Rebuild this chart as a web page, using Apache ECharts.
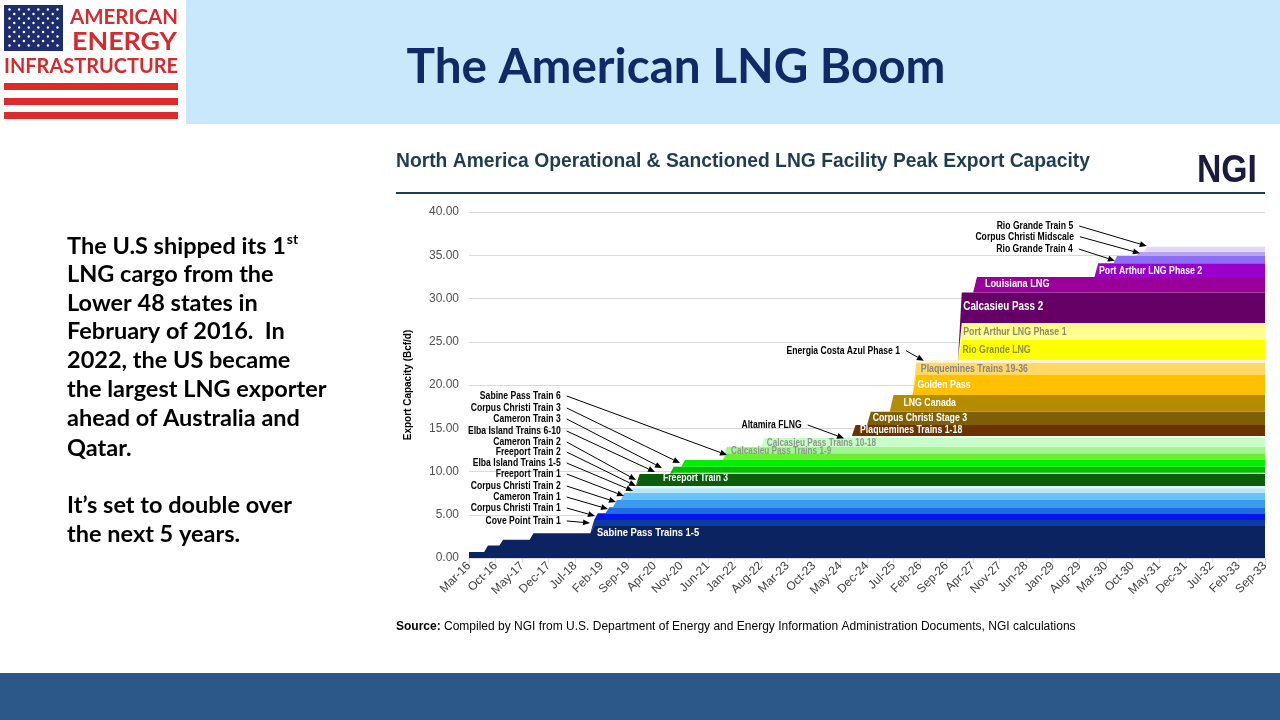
<!DOCTYPE html>
<html>
<head>
<meta charset="utf-8">
<title>The American LNG Boom</title>
<script src="https://cdn.jsdelivr.net/npm/echarts@6/dist/echarts.min.js"></script>
<style>
html,body{margin:0;padding:0;background:#ffffff;overflow:hidden;}
#chart{width:1280px;height:720px;}
</style>
</head>
<body>
<div id="chart"></div>
<script>
// ================= DATA =================
const tickLabels = ['Mar-16','Oct-16','May-17','Dec-17','Jul-18','Feb-19','Sep-19','Apr-20','Nov-20','Jun-21',
  'Jan-22','Aug-22','Mar-23','Oct-23','May-24','Dec-24','Jul-25','Feb-26','Sep-26','Apr-27','Nov-27','Jun-28',
  'Jan-29','Aug-29','Mar-30','Oct-30','May-31','Dec-31','Jul-32','Feb-33','Sep-33'];

const facilityNames = [
  'Sabine Pass Trains 1-5','Cove Point Train 1','Corpus Christi Train 1','Cameron Train 1','Corpus Christi Train 2',
  'Freeport Train 1','Elba Island Trains 1-5','Freeport Train 2','Cameron Train 2','Freeport Train 3',
  'Elba Island Trains 6-10','Cameron Train 3','Corpus Christi Train 3','Sabine Pass Train 6','Calcasieu Pass Trains 1-9',
  'Calcasieu Pass Trains 10-18','Altamira FLNG','Plaquemines Trains 1-18','Corpus Christi Stage 3','LNG Canada',
  'Golden Pass','Plaquemines Trains 19-36','Energia Costa Azul Phase 1','Rio Grande LNG','Port Arthur LNG Phase 1',
  'Calcasieu Pass 2','Louisiana LNG','Port Arthur LNG Phase 2','Rio Grande Train 4','Corpus Christi Midscale','Rio Grande Train 5'];

// month (counted from Mar-16) at which each facility reaches its capacity
const facilityStartMonth = [0,33,34,37,39, 41,43,44,45,45, 54,54,57,68,68, 78,100,102,106,112, 118,118,120,130,130, 130,134,166,171,177,179];

// peak export capacity, Bcf/d
const facilityCapacity = [3.70,0.69,0.78,0.69,0.85, 0.84,0.51,0.26,0.70,0.69, 0.15,0.69,0.78,0.77,0.77,
  1.00,0.23,1.28,1.53,1.93, 2.32,1.44,0.29,2.31,1.97, 3.52,1.80,1.58,0.84,0.50,0.58];

// Sabine Pass Trains 1-5 came on in steps
const sabineStepMonth = [0,5,9,17,33];
const sabineStepCapacity = [0.70,1.45,2.10,2.85,3.70];

// ================= STYLE =================
const facilityColors = ['#0b2461','#0d3c9e','#0514ee','#1f6de0','#3c9bf0',
  '#68c4f6','#b3e6f8','#e4f6fc','#0b5c0b','#0b5c0b',
  '#c9efc9','#00c000','#00ee00','#6cee34','#a2f590',
  '#c8fcc8','#e8ffe8','#6b3304','#7f5f05','#b58b00',
  '#ffc000','#ffd966','#fff5d6','#ffff00','#ffff8f',
  '#660066','#99009a','#9a00cc','#8c6ef5','#b9a2f0','#e3d5f8'];

// ---- annotation layout (data coordinates: [month, Bcf/d]) ----
const arrowNotes = [
  ['Sabine Pass Train 6',       [24.2,18.73],[68.07,11.91]],
  ['Corpus Christi Train 3',    [24.2,17.34],[55.67,10.98]],
  ['Cameron Train 3',           [24.2,16.07],[50.92,10.40]],
  ['Elba Island Trains 6-10',   [24.2,14.68],[49.07,9.94]],
  ['Cameron Train 2',           [24.2,13.41],[44.06,9.02]],
  ['Freeport Train 2',          [24.2,12.25],[44.06,8.32]],
  ['Elba Island Trains 1-5',    [24.2,10.98],[43.27,7.75]],
  ['Freeport Train 1',          [24.2,9.71],[40.89,7.17]],
  ['Corpus Christi Train 2',    [24.2,8.32],[38.78,6.47]],
  ['Cameron Train 1',           [24.2,7.05],[36.67,5.66]],
  ['Corpus Christi Train 1',    [24.2,5.78],[33.24,4.86]],
  ['Cove Point Train 1',        [24.2,4.28],[31.92,4.05]],
  ['Altamira FLNG',             [87.77,15.38],[98.93,13.84]],
  ['Energia Costa Azul Phase 1',[113.7,23.97],[120.0,22.81]],
  ['Rio Grande Train 5',        [159.4,38.38],[178.8,36.07]],
  ['Corpus Christi Midscale',   [159.6,37.14],[177.0,35.23]],
  ['Rio Grande Train 4',        [159.3,35.72],[170.4,34.37]]
];
const bandNotes = [
  ['Sabine Pass Trains 1-5',     [33.77,2.89], '#ffffff', 11.5],
  ['Freeport Train 3',           [51.18,9.19], '#ffffff', 10.5],
  ['Calcasieu Pass Trains 1-9',  [69.12,12.31],'#8a9a8a', 10],
  ['Calcasieu Pass Trains 10-18',[78.54,13.26],'#8a9a8a', 10],
  ['Plaquemines Trains 1-18',    [103.15,14.80],'#ffffff', 10.7],
  ['Corpus Christi Stage 3',     [106.5,16.15],'#ffffff', 10.7],
  ['LNG Canada',                 [114.6,17.88],'#ffffff', 10.7],
  ['Golden Pass',                [118.3,20.0], '#ffffff', 10.7],
  ['Plaquemines Trains 19-36',   [119.2,21.85],'#858585', 10.7],
  ['Rio Grande LNG',             [130.2,24.05],'#8c8c46', 10.7],
  ['Port Arthur LNG Phase 1',    [130.4,26.16],'#8c8c6a', 10.7],
  ['Calcasieu Pass 2',           [130.4,29.05],'#ffffff', 12],
  ['Louisiana LNG',              [136.1,31.68],'#ffffff', 11.2],
  ['Port Arthur LNG Phase 2',    [166.2,33.18],'#ffffff', 10.7]
];

// ================= BUILD =================
const monNames = ['Jan','Feb','Mar','Apr','May','Jun','Jul','Aug','Sep','Oct','Nov','Dec'];
const monthCount = 211;
const monthCategories = Array.from({length: monthCount}, (_, i) => {
  const t = 2 + i; return monNames[t % 12] + '-' + (16 + Math.floor(t / 12));
});

function capacityAt(i, m) {
  if (i === 0) {
    let v = 0;
    sabineStepMonth.forEach((s, k) => { if (m >= s) v = sabineStepCapacity[k]; });
    return v;
  }
  return m >= facilityStartMonth[i] ? facilityCapacity[i] : 0;
}

const series = facilityNames.map((name, i) => ({
  name, type: 'line', stack: 'capacity', symbol: 'none', showSymbol: false, silent: true,
  lineStyle: { width: 0, color: facilityColors[i] },
  itemStyle: { color: facilityColors[i] },
  areaStyle: { color: facilityColors[i], opacity: 1 },
  data: monthCategories.map((_, m) => capacityAt(i, m))
}));

const AR = '"Liberation Sans", Arial, sans-serif';
const chart = echarts.init(document.getElementById('chart'), null, { renderer: 'canvas', width: 1280, height: 720 });

chart.setOption({
  animation: false,
  backgroundColor: '#ffffff',
  grid: { left: 469, top: 212, width: 796, height: 346 },
  xAxis: [{
    type: 'category', data: monthCategories, boundaryGap: false,
    axisLine: { lineStyle: { color: '#d9d9d9' } },
    axisTick: { show: true, interval: 6, length: 5, lineStyle: { color: '#d9d9d9' } },
    axisLabel: { interval: 6, rotate: 45, fontSize: 12, color: '#404040', fontFamily: AR, margin: 6,
      formatter: (v, idx) => (tickLabels[idx / 7] !== undefined ? tickLabels[idx / 7] : v) },
    splitLine: { show: false }
  }, {
    type: 'value', min: 0, max: monthCount - 1, show: false, position: 'top'
  }],
  yAxis: {
    type: 'value', min: 0, max: 40, interval: 5,
    name: 'Export Capacity (Bcf/d)', nameLocation: 'middle', nameGap: 56, nameRotate: 90,
    nameTextStyle: { fontFamily: AR, fontWeight: 'bold', fontSize: 10, color: '#000000' },
    axisLine: { show: false }, axisTick: { show: false },
    axisLabel: { formatter: v => v.toFixed(2), fontSize: 12, color: '#505050', margin: 10, fontFamily: AR },
    splitLine: { lineStyle: { color: '#d9d9d9', width: 1 } }
  },
  series
});

// ---------- graphics ----------
const ctx = document.createElement('canvas').getContext('2d');
function measure(text, font) { ctx.font = font; return ctx.measureText(text).width; }
function txt(x, y, text, font, fill, align, scaleX) {
  return { type: 'text', x, y, scaleX: scaleX || 1, silent: true, z: 100,
    style: { text, font, fill, align: align || 'left', verticalAlign: 'middle',
             textAlign: align || 'left', textVerticalAlign: 'middle' } };
}
function fitTxt(x, y, text, font, fill, width, align) {
  return txt(x, y, text, font, fill, align, width / measure(text, font));
}
const NARROW = 0.82;
const g = [];

// header band and footer band
g.push({ type: 'rect', silent: true, z: 1, shape: { x: 186, y: 0, width: 1094, height: 124 }, style: { fill: '#cae8fb' } });
g.push({ type: 'rect', silent: true, z: 1, shape: { x: 0, y: 673, width: 1280, height: 47 }, style: { fill: '#2c5789' } });

// logo
g.push({ type: 'rect', silent: true, z: 2, shape: { x: 4, y: 5, width: 59, height: 46 }, style: { fill: '#1e2d6c' } });
for (let r = 0; r < 9; r++) {
  const n = r % 2 === 0 ? 6 : 5, off = r % 2 === 0 ? 0 : 4.8;
  for (let k = 0; k < n; k++) {
    g.push({ type: 'circle', silent: true, z: 3, shape: { cx: 9.5 + off + k * 9.6, cy: 9.5 + r * 4.5, r: 1.2 }, style: { fill: '#ffffff' } });
  }
}
const RED = '#d62b2e';
g.push(fitTxt(70, 17.5, 'AMERICAN', 'bold 21px Lato', RED, 108));
g.push(fitTxt(72, 42, 'ENERGY', 'bold 25px Lato', RED, 105));
g.push(fitTxt(4, 67, 'INFRASTRUCTURE', 'bold 20px Lato', RED, 174));
[83, 98, 112].forEach(y => g.push({ type: 'rect', silent: true, z: 2, shape: { x: 4, y, width: 174, height: 7 }, style: { fill: '#dd2b2b' } }));

// main title
g.push(fitTxt(676, 68, 'The American LNG Boom', 'bold 47px Lato', '#0f2a66', 539, 'center'));

// left paragraph
const PF = 'bold 23.5px Lato';
const para = [['The U.S shipped its 1', 246], ['LNG cargo from the', 274], ['Lower 48 states in', 303],
  ['February of 2016.  In', 331], ['2022, the US became', 360], ['the largest LNG exporter', 389],
  ['ahead of Australia and', 418], ['Qatar.', 448], ['It\u2019s set to double over', 505], ['the next 5 years.', 534]];
para.forEach(([t, y]) => g.push(txt(67, y, t, PF, '#000000', 'left')));
g.push(txt(67 + measure('The U.S shipped its 1', PF) + 1, 239, 'st', 'bold 14px Lato', '#000000', 'left'));

// chart header
g.push(fitTxt(396, 162, 'North America Operational & Sanctioned LNG Facility Peak Export Capacity', 'bold 19.5px ' + AR, '#1f3d4d', 694));
g.push(fitTxt(1227, 171, 'NGI', 'bold 39px ' + AR, '#1b1b40', 60, 'center'));
g.push({ type: 'line', silent: true, z: 5, shape: { x1: 396, y1: 193, x2: 1265, y2: 193 }, style: { stroke: '#1f3d4d', lineWidth: 2 } });

// source
g.push({ type: 'text', x: 396, y: 627, silent: true, z: 100,
  style: { text: '{b|Source:} Compiled by NGI from U.S. Department of Energy and Energy Information Administration Documents, NGI calculations',
    font: '12px ' + AR, fill: '#000000', align: 'left', verticalAlign: 'middle', textAlign: 'left', textVerticalAlign: 'middle',
    rich: { b: { fontWeight: 'bold', fontSize: 12, fontFamily: 'Liberation Sans', fill: '#000000', color: '#000000' } } } });

// data-anchored annotations
const px = (p) => [chart.convertToPixel({ xAxisIndex: 1 }, p[0]), chart.convertToPixel({ yAxisIndex: 0 }, p[1])];

bandNotes.forEach(([t, at, color, size]) => {
  const [x, y] = px(at);
  g.push(txt(x, y, t, 'bold ' + size + 'px ' + AR, color, 'left', NARROW));
});

arrowNotes.forEach(([t, at, tip]) => {
  const [lx, ly] = px(at);
  const [tx, ty] = px(tip);
  g.push(txt(lx, ly, t, 'bold 10.5px ' + AR, '#000000', 'right', NARROW));
  const sx = lx + 6, sy = ly;
  const dx = tx - sx, dy = ty - sy, len = Math.sqrt(dx * dx + dy * dy);
  const ux = dx / len, uy = dy / len, L = 7, Wd = 3;
  const bx = tx - ux * L, by = ty - uy * L;
  g.push({ type: 'line', silent: true, z: 100, shape: { x1: sx, y1: sy, x2: bx, y2: by }, style: { stroke: '#000000', lineWidth: 1 } });
  g.push({ type: 'polygon', silent: true, z: 100,
    shape: { points: [[tx, ty], [bx - uy * Wd, by + ux * Wd], [bx + uy * Wd, by - ux * Wd]] }, style: { fill: '#000000' } });
});

chart.setOption({ graphic: { elements: g } });
</script>
</body>
</html>
